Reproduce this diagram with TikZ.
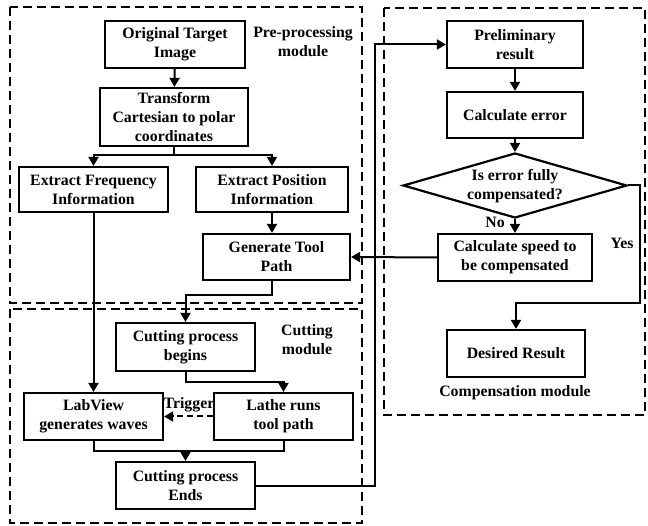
\documentclass[tikz,border=0pt]{standalone}
\usepackage{fontspec}
\setmainfont{Liberation Serif}
\usetikzlibrary{arrows.meta,shapes.geometric}
\begin{document}
\begin{tikzpicture}[x=1pt,y=-1pt,
  font=\fontsize{15.8}{19}\selectfont\bfseries,
  box/.style={draw,line width=2.2pt,align=center,inner sep=1pt},
  module/.style={draw,line width=2.2pt,dash pattern=on 9pt off 5pt},
  conn/.style={line width=2pt},
  arr/.style={conn,-{Triangle[length=9pt,width=10pt]}},
  txt/.style={align=center,inner sep=0pt}]
\useasboundingbox (0,0) rectangle (648,526);
% modules
\draw[module] (10,7) rectangle (362,303);
\draw[module] (10,309) rectangle (362,523);
\draw[module] (384,8) rectangle (645,415);
\node[txt] (lpre) at (303,42) {Pre-processing\\module};
\node[txt] (lcut) at (307,340) {Cutting\\module};
\node[txt] (lcomp) at (515,393) {Compensation module};
% boxes
\node[box,minimum width=140,minimum height=47] (orig) at (175,44.5) {Original Target\\Image};
\node[box,minimum width=148,minimum height=58] (trans) at (174,117) {Transform\\Cartesian to polar\\coordinates};
\node[box,minimum width=149,minimum height=45] (freq) at (93.5,189.5) {Extract Frequency\\Information};
\node[box,minimum width=152,minimum height=45] (pos) at (272,189.5) {Extract Position\\Information};
\node[box,minimum width=147,minimum height=46] (gen) at (276.5,257) {Generate Tool\\Path};
\node[box,minimum width=139,minimum height=48] (begins) at (185.5,347) {Cutting process\\begins};
\node[box,minimum width=139,minimum height=47] (labview) at (93.5,416.5) {LabView\\generates waves};
\node[box,minimum width=139,minimum height=47] (lathe) at (283.5,416.5) {Lathe runs\\tool path};
\node[box,minimum width=139,minimum height=47] (ends) at (185.5,485.5) {Cutting process\\Ends};
\node[box,minimum width=136,minimum height=47] (prelim) at (515,44.5) {Preliminary\\result};
\node[box,minimum width=136,minimum height=46] (calcerr) at (515,115) {Calculate error};
\node[draw,line width=2.2pt,diamond,aspect=3.45,inner sep=0pt,minimum width=224,minimum height=65] (dec) at (515,185.5) {};
\node[txt] (dect) at (515,186) {Is error fully\\compensated?};
\node[box,minimum width=154,minimum height=47] (speed) at (515,257.5) {Calculate speed to\\be compensated};
\node[box,minimum width=138,minimum height=47] (desired) at (516,353.5) {Desired Result};
% labels
\node[txt] (trig) at (189,405) {Trigger};
\node[txt] (no) at (495,222) {No};
\node[txt] (yes) at (622,243) {Yes};
% connectors
\coordinate (split) at (174,155);
\coordinate (m1) at (272,295);
\coordinate (m2) at (185.5,382);
\coordinate (m3) at (185.5,451);
\coordinate (y1) at (640,303);
\draw[arr] (orig) -- (trans);
\draw[conn] (trans.south) -- (split);
\draw[arr] (split) -| (freq.north);
\draw[arr] (split) -| (pos.north);
\draw[arr] (pos.south) -- (pos.south |- gen.north);
\draw[arr] (pos.south |- gen.south) -- (m1) -| (begins.north);
\draw[arr] (begins.south) -- (m2) -| (lathe.north);
\draw[arr] (freq.south) -- (labview.north);
\draw[arr,dash pattern=on 6pt off 4pt] (lathe.west) -- (labview.east);
\draw[conn] (labview.south) |- (m3) -| (lathe.south);
\draw[arr] (m3) -- (ends.north);
\draw[arr] (ends.east) -- ++(119,0) |- (prelim.west);
\draw[arr] (prelim) -- (calcerr);
\draw[arr] (calcerr) -- (dec.north);
\draw[arr] (dec.south) -- (speed.north);
\draw[arr] (speed.west) -- (gen.east);
\draw[arr] (dec.east) -| (y1) -| (desired.north);
\end{tikzpicture}
\end{document}
